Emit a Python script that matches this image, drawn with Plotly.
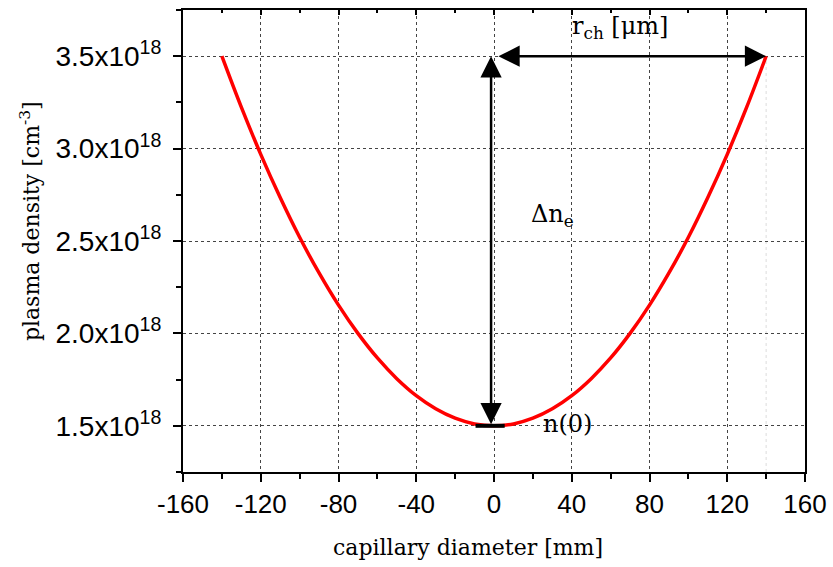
import plotly.graph_objects as go

# ---- data ----
diameter_mm = [-140, -130, -120, -110, -100, -90, -80, -70, -60, -50, -40, -30, -20, -10,
               0, 10, 20, 30, 40, 50, 60, 70, 80, 90, 100, 110, 120, 130, 140]
density_e18 = [3.500, 3.224, 2.969, 2.735, 2.520, 2.327, 2.153, 2.000, 1.867, 1.755, 1.663,
               1.592, 1.541, 1.510, 1.500, 1.510, 1.541, 1.592, 1.663, 1.755, 1.867, 2.000,
               2.153, 2.327, 2.520, 2.735, 2.969, 3.224, 3.500]
density = [v * 1e18 for v in density_e18]

x_ticks = [-160, -120, -80, -40, 0, 40, 80, 120, 160]
y_ticks = [1.5e18, 2.0e18, 2.5e18, 3.0e18, 3.5e18]
y_ticktext = ["1.5x10<sup>18</sup>", "2.0x10<sup>18</sup>", "2.5x10<sup>18</sup>",
              "3.0x10<sup>18</sup>", "3.5x10<sup>18</sup>"]

n0 = 1.5e18
n_max = 3.5e18
r_ch = 140

SANS = "Liberation Sans, Arial, sans-serif"
SERIF = "DejaVu Serif, serif"

fig = go.Figure()
fig.add_trace(go.Scatter(x=diameter_mm, y=density, mode="lines", line_shape="spline",
                         line=dict(color="#ff0000", width=3.5), showlegend=False,
                         hoverinfo="skip"))
# invisible trace to draw the top (mirrored) tick axis
fig.add_trace(go.Scatter(x=[0], y=[n0], xaxis="x2", mode="markers",
                         marker=dict(opacity=0), showlegend=False, hoverinfo="skip"))

axis_common = dict(showline=True, linecolor="black", linewidth=2, automargin=False,
                   showgrid=True, gridcolor="#444444", gridwidth=1, griddash="dot",
                   zeroline=False, ticks="outside", ticklen=8, tickwidth=1.5,
                   tickcolor="black")

fig.update_layout(
    width=833, height=567,
    margin=dict(l=183, r=28, t=10, b=95, autoexpand=False),
    plot_bgcolor="white", paper_bgcolor="white",
    xaxis=dict(range=[-160, 160], tickmode="array", tickvals=x_ticks,
               ticktext=[str(v) for v in x_ticks], mirror=True,
               tickfont=dict(family=SANS, size=26, color="black"),
               minor=dict(ticks="outside", ticklen=5, tickcolor="black", dtick=20,
                          tick0=-160, showgrid=False),
               **axis_common),
    xaxis2=dict(range=[-160, 160], overlaying="x", side="top", anchor="y",
                automargin=False,
                showline=False, showgrid=False, zeroline=False, showticklabels=False,
                ticks="inside", ticklen=5, tickcolor="black", tickwidth=1.5,
                tickmode="array", tickvals=x_ticks,
                minor=dict(ticks="inside", ticklen=3, tickcolor="black", dtick=20, tick0=-160)),
    yaxis=dict(range=[1.25e18, 3.75e18], tickmode="array", tickvals=y_ticks,
               ticktext=y_ticktext, mirror=True, ticklabelstandoff=6,
               tickfont=dict(family=SANS, size=28, color="black"),
               minor=dict(ticks="outside", ticklen=5, tickcolor="black", dtick=0.25e18,
                          tick0=1.25e18, showgrid=False),
               **axis_common),
)

# faint line at r_ch
fig.add_shape(type="line", x0=r_ch, x1=r_ch, y0=1.25e18, y1=n_max, xref="x", yref="y",
              line=dict(color="#dddddd", width=1, dash="dot"), layer="below")
# n(0) bar
fig.add_shape(type="line", x0=-9.5, x1=5.5, y0=n0, y1=n0, xref="x", yref="y",
              line=dict(color="black", width=4))

# double arrows
arrow = dict(xref="x", yref="y", axref="x", ayref="y", showarrow=True, text="",
             arrowhead=2, arrowsize=1.7, arrowwidth=2.5, arrowcolor="black",
             arrowside="end+start", startarrowhead=2, startarrowsize=1.7)
fig.add_annotation(x=-1.5, y=n_max, ax=-1.5, ay=n0, **arrow)
fig.add_annotation(x=r_ch, y=n_max, ax=1.5, ay=n_max, **arrow)

# labels
LBL = dict(family=SERIF, size=24, color="black")
fig.add_annotation(x=65, y=3.655e18, xref="x", yref="y", showarrow=False,
                   text="r<sub>ch</sub> [μm]", font=LBL)
fig.add_annotation(x=30, y=2.64e18, xref="x", yref="y", showarrow=False,
                   text="Δn<sub>e</sub>", font=LBL)
fig.add_annotation(x=38, y=1.51e18, xref="x", yref="y", showarrow=False,
                   text="n(0)", font=LBL)

# axis titles
fig.add_annotation(x=0.458, y=-0.1645, xref="paper", yref="paper", showarrow=False,
                   xanchor="center", yanchor="middle",
                   text="capillary diameter [mm]", font=dict(family=SERIF, size=22, color="black"))
fig.add_annotation(x=-0.246, y=0.543, xref="paper", yref="paper", showarrow=False,
                   xanchor="center", yanchor="middle", textangle=-90,
                   text="plasma density [cm<sup>-3</sup>]",
                   font=dict(family=SERIF, size=22, color="black"))

fig.write_html("out.html", config={"displayModeBar": False},
               post_script="document.body.style.margin='0';document.body.style.overflow='hidden';")
